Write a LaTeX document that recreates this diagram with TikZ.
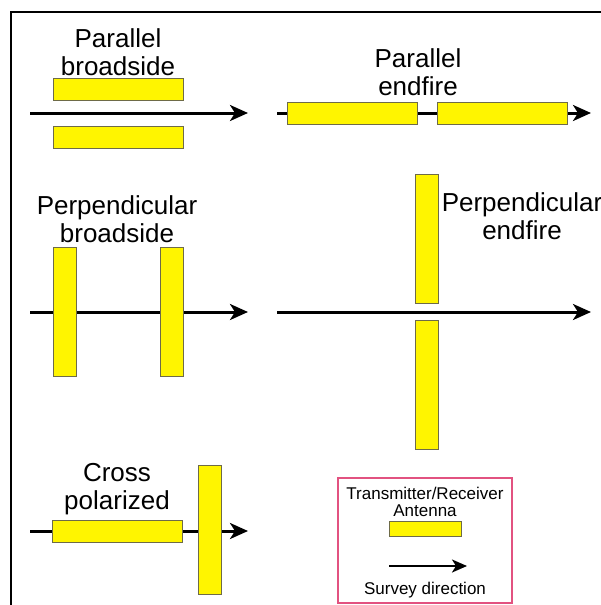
\documentclass[tikz,border=0pt]{standalone}
\usepackage{fontspec}
\setmainfont{Liberation Sans}
\usetikzlibrary{positioning}
\usetikzlibrary{arrows.meta}
\definecolor{antyellow}{RGB}{255,245,0}
\definecolor{legpink}{RGB}{226,82,128}

\begin{document}
\begin{tikzpicture}[x=1pt, y=-1pt,
  antenna/.style = {draw=black!65!yellow, line width=0.8pt, fill=antyellow, inner sep=0pt},
  hbar/.style = {antenna, minimum width=130pt, minimum height=22pt},
  vbar/.style = {antenna, minimum width=23pt, minimum height=129pt},
  survey/.style = {line width=3pt, -{Stealth[length=18pt, width=16pt, inset=5pt]}},
  title/.style = {font=\fontsize{26}{28}\selectfont, align=center, inner sep=0pt, anchor=north},
  legtext/.style = {font=\fontsize{17}{17}\selectfont, align=center, inner sep=0pt}]
\useasboundingbox (0,0) rectangle (601,605);
\draw[line width=2pt] (11,605) -- (11,12) -- (601,12);
% survey lines
\coordinate (pb1) at (30,113);   \coordinate (pb2) at (248,113);
\coordinate (pe1) at (277,113);  \coordinate (pe2) at (591,113);
\coordinate (qb1) at (30,312);   \coordinate (qb2) at (248,312);
\coordinate (qe1) at (277,312);  \coordinate (qe2) at (591,312);
\coordinate (cp1) at (30,531);   \coordinate (cp2) at (248,531);
\draw[survey] (pb1) -- (pb2);
\draw[survey] (pe1) -- (pe2);
\draw[survey] (qb1) -- (qb2);
\draw[survey] (qe1) -- (qe2);
\draw[survey] (cp1) -- (cp2);
% antennas
\node[hbar] (pbtop) at (118,89) {};
\node[hbar] (pbbot) at (118,137) {};
\node[hbar] (pel) at (352,113) {};
\node[hbar] (per) at (502,113) {};
\node[vbar] (qbl) at (64.5,311.5) {};
\node[vbar] (qbr) at (171.5,311.5) {};
\node[vbar] (qet) at (426.5,238.5) {};
\node[vbar] (qeb) at (426.5,385) {};
\node[hbar] (cph) at (117,531) {};
\node[vbar] (cpv) at (209.5,530) {};
% titles
\node[title] (pbt) at (118,28) {Parallel\\broadside};
\node[title] (pet) at (418,48) {Parallel\\endfire};
\node[title] (qbt) at (117,195) {Perpendicular\\broadside};
\node[title] (qet) at (522,192) {Perpendicular\\endfire};
\node[title] (cpt) at (117,463) {Cross\\polarized};
% legend
\draw[legpink, line width=1.2pt] (338,478) rectangle (512,603);
\node[legtext, anchor=north] (legant) at (425,487) {Transmitter/Receiver\\Antenna};
\node[antenna, minimum width=72pt, minimum height=15pt] (legbar) at (425,528.5) {};
\coordinate (lg1) at (389,566); \coordinate (lg2) at (467,566);
\draw[line width=2.2pt, -{Stealth[length=15pt, width=13pt, inset=4pt]}] (lg1) -- (lg2);
\node[legtext, anchor=base] (legdir) at (425,594) {Survey direction};
\end{tikzpicture}
\end{document}
